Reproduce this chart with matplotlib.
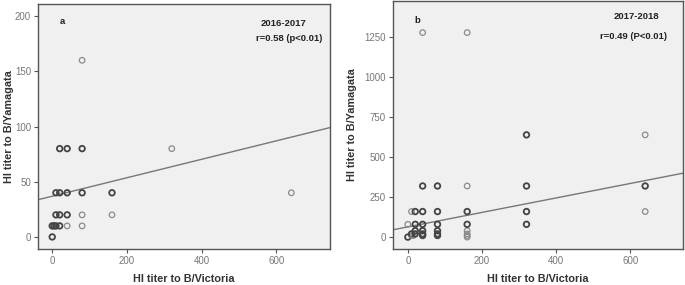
import matplotlib
matplotlib.use("Agg")
import matplotlib.pyplot as plt
import numpy as np

plt.rcParams["font.family"] = ["Liberation Sans", "DejaVu Sans"]

# panel a: 2016-2017
a_x = [0, 0, 5, 10, 20, 40, 80, 10, 20, 40, 80, 160, 10, 20, 40, 80, 160, 640, 20, 40, 80, 320, 80]
a_y = [0, 10, 10, 10, 10, 10, 10, 20, 20, 20, 20, 20, 40, 40, 40, 40, 40, 40, 80, 80, 80, 80, 160]
a_n = [3, 3, 3, 3, 3, 1, 1, 3, 3, 3, 1, 1, 3, 3, 3, 3, 3, 1, 3, 3, 3, 1, 1]
a_fit = (36.9, 0.0836)  # intercept, slope

# panel b: 2017-2018
b_x = [0, 0, 10, 10, 10, 15, 20, 20, 20, 20, 40, 40, 40, 40, 40, 40, 40,
       80, 80, 80, 80, 80, 80, 160, 160, 160, 160, 160, 160, 160, 160,
       320, 320, 320, 320, 640, 640, 640]
b_y = [0, 80, 10, 20, 160, 10, 20, 40, 80, 160, 10, 20, 40, 80, 160, 320, 1280,
       10, 20, 40, 80, 160, 320, 0, 10, 20, 40, 80, 160, 320, 1280,
       80, 160, 320, 640, 160, 320, 640]
b_n = [2, 1, 1, 2, 1, 1, 2, 2, 2, 3, 2, 2, 2, 3, 3, 3, 1,
       2, 2, 2, 3, 3, 3, 1, 1, 1, 1, 3, 3, 1, 1,
       3, 3, 3, 3, 1, 3, 1]
b_fit = (64.0, 0.453)

x_ticks = [0, 200, 400, 600]
a_yticks = [0, 50, 100, 150, 200]
b_yticks = [0, 250, 500, 750, 1000, 1250]


def panel(ax, xs, ys, ns, fit, xlim, ylim, yticks, tag, season, stat, pos, ylab_x):
    ax.set_facecolor("#f0f0f0")
    cols = ["#444444" if n > 1 else "#8a8a8a" for n in ns]
    lws = [1.3 if n > 1 else 0.9 for n in ns]
    ax.scatter(xs, ys, s=16, facecolors="none", edgecolors=cols, linewidths=lws, zorder=3)
    lx = np.array(xlim)
    ax.plot(lx, fit[0] + fit[1] * lx, color="#777777", lw=1.0, zorder=2)
    ax.set_xlim(*xlim)
    ax.set_ylim(*ylim)
    ax.set_xticks(x_ticks)
    ax.set_yticks(yticks)
    for s in ax.spines.values():
        s.set_color("#555555")
        s.set_linewidth(1.0)
    ax.tick_params(direction="out", length=3, width=0.8, colors="#555555",
                   labelcolor="#777777", labelsize=7, pad=2)
    ax.set_xlabel("HI titer to B/Victoria", fontsize=7.8, fontweight="bold", color="#333333")
    ax.set_ylabel("HI titer to B/Yamagata", fontsize=7.8, fontweight="bold", color="#333333")
    ax.xaxis.set_label_coords(0.5, -0.1)
    ax.yaxis.set_label_coords(ylab_x, 0.5)
    for (px, py), txt in zip(pos, [tag, season, stat]):
        ax.text(px, py, txt, transform=ax.transAxes, fontsize=6.8,
                fontweight="bold", ha="center", va="center", color="#222222")


fig = plt.figure(figsize=(6.85, 2.85), dpi=100)
ax1 = fig.add_axes([0.0555, 0.126, 0.426, 0.86])
ax2 = fig.add_axes([0.5737, 0.126, 0.4234, 0.87])

panel(ax1, a_x, a_y, a_n, a_fit, (-38, 743), (-11, 211), a_yticks,
      "a", "2016-2017", "r=0.58 (p<0.01)",
      [(0.082, 0.93), (0.84, 0.922), (0.86, 0.861)], -0.082)
panel(ax2, b_x, b_y, b_n, b_fit, (-40, 742), (-75, 1477), b_yticks,
      "b", "2017-2018", "r=0.49 (P<0.01)",
      [(0.085, 0.923), (0.838, 0.937), (0.829, 0.856)], -0.125)

fig.savefig("out.png", dpi=100, facecolor="white")
